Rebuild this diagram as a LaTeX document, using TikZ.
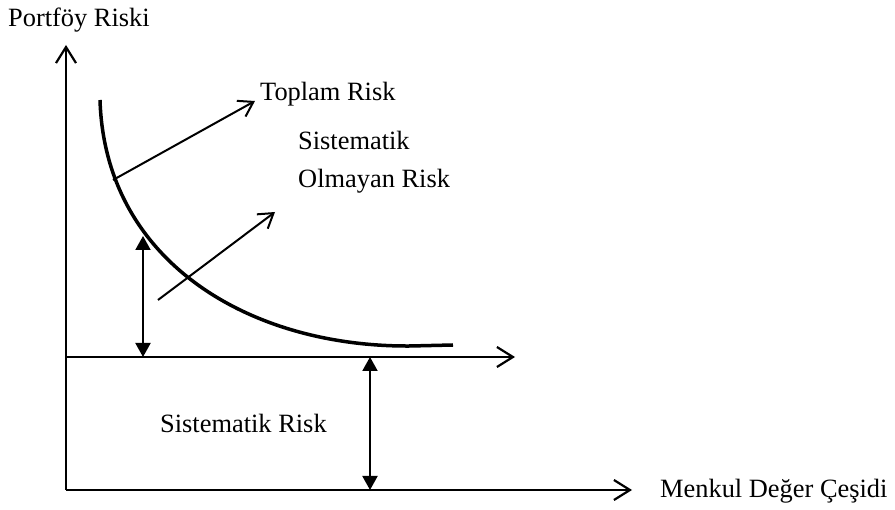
\documentclass[tikz,border=0pt]{standalone}
\usepackage{fontspec}
\setmainfont{Liberation Serif}
\usetikzlibrary{arrows.meta}

\begin{document}
\begin{tikzpicture}[x=1pt,y=-1pt,
  axis/.style={line width=2.2pt,-{Straight Barb[length=16pt,width=20pt,line width=2.2pt]}},
  pointer/.style={line width=2pt,-{Straight Barb[length=14pt,width=18pt,line width=2pt]}},
  span/.style={line width=2pt,{Triangle[length=14pt,width=15pt]}-{Triangle[length=14pt,width=15pt]}},
  lbl/.style={font=\fontsize{26.4}{38}\selectfont,inner sep=0pt,anchor=base west,align=left}]
\useasboundingbox (0,0) rectangle (895,510);
% axes
\coordinate (o) at (66,490);
\coordinate (ytop) at (66,45);
\coordinate (xend) at (632,490);
\coordinate (m0) at (66,357);
\coordinate (mend) at (515,357);
\draw[axis] (o)--(ytop);
\draw[axis] (o)--(xend);
\draw[axis] (m0)--(mend);
% labels
\node[lbl] (yl) at (8,27) {Portföy Riski};
\node[lbl] (xl) at (660,498) {Menkul Değer Çeşidi};
\node[lbl] (tr) at (260,101) {Toplam Risk};
\node[lbl] (sor) at (298,188) {Sistematik\\Olmayan Risk};
\node[lbl] (sr) at (160,433) {Sistematik Risk};
% total risk curve
\draw[line width=3.5pt] (100,100) .. controls (105,262) and (250,347) .. (410,346) -- (453,345);
\coordinate (ct) at (113,180);
\coordinate (tt) at (255,101);
\coordinate (cs) at (158,300);
\coordinate (ts) at (275,212);
\draw[pointer] (ct)--(tt);
\draw[pointer] (cs)--(ts);
% risk spans
\coordinate (a1) at (143,236);
\coordinate (a2) at (143,357);
\coordinate (b1) at (370,357);
\coordinate (b2) at (370,490);
\draw[span] (a1)--(a2);
\draw[span] (b1)--(b2);
\end{tikzpicture}
\end{document}
